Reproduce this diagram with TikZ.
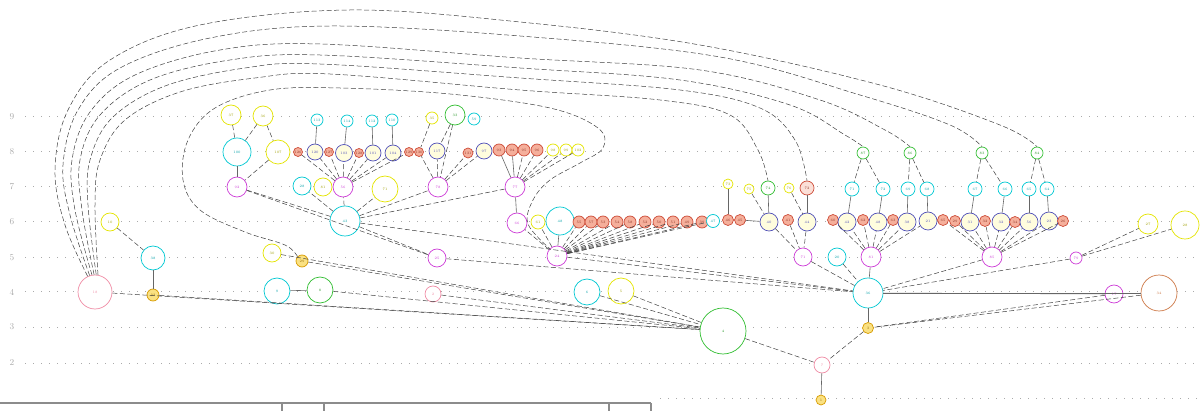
\documentclass[tikz,border=0pt]{standalone}
\usepackage{color}
\usepackage{tikz}

\definecolor{pinkc}{RGB}{240,140,165}
\definecolor{yelc}{RGB}{228,228,0}
\definecolor{cyanc}{RGB}{0,200,210}
\definecolor{grnc}{RGB}{50,190,50}
\definecolor{purc}{RGB}{205,60,215}
\definecolor{redc}{RGB}{205,75,55}
\definecolor{redf}{RGB}{245,175,155}
\definecolor{bluc}{RGB}{80,80,185}
\definecolor{bluf}{RGB}{255,253,222}
\definecolor{gldc}{RGB}{215,155,0}
\definecolor{gldf}{RGB}{250,225,130}
\definecolor{brnc}{RGB}{205,120,70}
\definecolor{gridc}{RGB}{170,170,170}

\begin{document}
\begin{tikzpicture}[x=1pt, y=-1pt,
   vx/.style={circle, draw, fill=white, inner sep=0pt, line width=0.7pt, font=\fontsize{3.5}{3.5}\selectfont},
   pk/.style={vx, draw=pinkc, text=pinkc},
   yl/.style={vx, draw=yelc, text=yelc!70!black},
   cy/.style={vx, draw=cyanc, text=cyanc!80!black},
   gr/.style={vx, draw=grnc, text=grnc!80!black},
   pu/.style={vx, draw=purc, text=purc},
   rd/.style={vx, draw=redc, fill=redf, text=redc!70!black},
   bl/.style={vx, draw=bluc, fill=bluf, text=bluc},
   gd/.style={vx, draw=gldc, fill=gldf, text=gldc!70!black},
   br/.style={vx, draw=brnc, text=brnc},
   dl/.style={draw=black!75, line width=0.5pt, dash pattern=on 5pt off 2.5pt},
   sl/.style={draw=black!60, line width=0.6pt}]

   \useasboundingbox (0,0) rectangle (1201,411);

   % level lines
   \foreach \lv/\yy in {9/117, 8/152, 7/187, 6/222, 5/258, 4/292, 3/327, 2/363} {
      \node[text=gridc, font=\fontsize{9}{9}\selectfont] (lv\lv) at (12,\yy) {\lv};
      \draw[gridc, line width=1pt, dash pattern=on 1pt off 7pt] (25,\yy) -- (1201,\yy);
   }
   \draw[gridc, line width=1pt, dash pattern=on 1pt off 7pt] (660,398) -- (1201,398);

   % table edge at the bottom
   \draw[black!45, line width=1.4pt] (0,403) -- (651,403);
   \foreach \xx in {282,324,609,651}
      \draw[black!45, line width=1.4pt] (\xx,403) -- (\xx,411);

   % left group
   \node[pk, minimum size=34] (n18) at (95,292) {18};
   \node[yl, minimum size=18] (n10) at (110,222) {10};
   \node[cy, minimum size=24] (n38) at (153,258) {38};
   \node[gd, minimum size=12] (n33) at (153,295) {33};

   % first cluster
   \node[yl, minimum size=20] (n37) at (231,115) {37};
   \node[yl, minimum size=20] (n36y) at (263,116) {36};
   \node[cy, minimum size=28] (n100) at (237,152) {100};
   \node[yl, minimum size=24] (n107) at (278,152) {107};
   \node[pu, minimum size=20] (n92) at (237,187) {92};
   \node[cy, minimum size=18] (n28) at (302,186) {28};
   \node[yl, minimum size=18] (n81y) at (323,187) {81};
   \node[pu, minimum size=20] (n56) at (343,187) {56};
   \node[yl, minimum size=26] (n71y) at (385,189) {71};
   \node[pu, minimum size=20] (n78) at (438,187) {78};
   \node[cy, minimum size=30] (n43) at (345,221) {43};

   \node[cy, minimum size=12] (c113) at (317,120) {113};
   \node[cy, minimum size=12] (c114) at (347,121) {114};
   \node[cy, minimum size=12] (c112) at (372,121) {112};
   \node[cy, minimum size=12] (c110) at (392,120) {110};
   \node[yl, minimum size=12] (y35) at (432,118) {35};
   \node[gr, minimum size=20] (g33) at (455,115) {33};
   \node[cy, minimum size=12] (c59) at (474,119) {59};

   \node[rd, minimum size=9] (r126) at (298,152) {126};
   \node[bl, minimum size=16] (b120) at (315,152) {120};
   \node[rd, minimum size=9] (r127) at (329,152) {127};
   \node[bl, minimum size=17] (b103) at (344,153) {103};
   \node[rd, minimum size=9] (r128) at (359,153) {128};
   \node[bl, minimum size=16] (b101) at (373,153) {101};
   \node[bl, minimum size=16] (b104) at (393,153) {104};
   \node[rd, minimum size=9] (r129) at (409,152) {129};
   \node[rd, minimum size=9] (r130) at (419,152) {130};
   \node[bl, minimum size=16] (b117) at (437,151) {117};
   \node[rd, minimum size=10] (r131) at (468,153) {131};
   \node[bl, minimum size=16] (b97) at (484,151) {97};
   \node[rd, minimum size=12] (r93) at (499,150) {93};
   \node[rd, minimum size=12] (r94) at (512,150) {94};
   \node[rd, minimum size=12] (r95) at (524,150) {95};
   \node[rd, minimum size=12] (r96) at (537,150) {96};
   \node[yl, minimum size=12] (y98) at (553,150) {98};
   \node[yl, minimum size=12] (y99) at (566,150) {99};
   \node[yl, minimum size=12] (y102) at (578,150) {102};
   \node[pu, minimum size=20] (n77) at (515,187) {77};

   % second cluster
   \node[pu, minimum size=20] (n66) at (517,223) {66};
   \node[yl, minimum size=14] (y61) at (538,222) {61};
   \node[cy, minimum size=28] (n48) at (560,221) {48};
   \foreach \nn/\xx in {55/579, 57/591, 53/603, 54/617, 58/630, 52/645, 50/659, 51/673, 49/687, 39/702}
      \node[rd, minimum size=12] (r\nn) at (\xx,222) {\nn};
   \node[cy, minimum size=13] (c47) at (713,221) {47};
   \node[rd, minimum size=11] (r46) at (728,220) {46};
   \node[rd, minimum size=11] (r45) at (740,220) {45};
   \node[pu, minimum size=20] (n24) at (557,256) {24};
   \node[pu, minimum size=18] (n25) at (437,258) {25};

   % middle right
   \node[yl, minimum size=10] (y73) at (728,184) {73};
   \node[yl, minimum size=10] (y75) at (749,189) {75};
   \node[gr, minimum size=14] (g74) at (768,188) {74};
   \node[yl, minimum size=10] (y76) at (789,188) {76};
   \node[rd, minimum size=14, fill=redf!40] (o72) at (807,188) {72};
   \node[bl, minimum size=18] (b40) at (769,222) {40};
   \node[rd, minimum size=11] (r41) at (788,220) {41};
   \node[bl, minimum size=18] (b44) at (807,222) {44};
   \node[pu, minimum size=18] (p71) at (803,257) {71};
   \node[cy, minimum size=18] (c20) at (837,257) {20};
   \node[pu, minimum size=20] (p81) at (871,257) {81};
   \node[cy, minimum size=30] (c36) at (868,293) {36};
   \node[gd, minimum size=11] (g3) at (868,328) {3};
   \node[pk, minimum size=16] (p7) at (822,365) {7};
   \node[gd, minimum size=10] (gd1) at (821,400) {1};
   \node[gr, minimum size=46] (g4) at (723,331) {4};

   % right cluster
   \node[rd, minimum size=11] (r60) at (833,220) {60};
   \node[bl, minimum size=18] (b42) at (847,222) {42};
   \node[rd, minimum size=11] (r62) at (863,220) {62};
   \node[bl, minimum size=18] (b48r) at (878,222) {48};
   \node[rd, minimum size=11] (r63) at (893,220) {63};
   \node[bl, minimum size=18] (b38r) at (907,222) {38};
   \node[bl, minimum size=18] (b21) at (928,221) {21};
   \node[rd, minimum size=11] (r65) at (943,220) {65};
   \node[rd, minimum size=11] (r29) at (955,221) {29};
   \node[bl, minimum size=18] (b31) at (970,222) {31};
   \node[rd, minimum size=11] (r32) at (985,221) {32};
   \node[bl, minimum size=18] (b32) at (1001,222) {32};
   \node[rd, minimum size=11] (r34) at (1015,222) {34};
   \node[bl, minimum size=18] (b56r) at (1029,222) {56};
   \node[bl, minimum size=18] (b23) at (1049,221) {23};
   \node[rd, minimum size=11] (r26) at (1063,221) {26};

   \node[cy, minimum size=14] (c71) at (852,189) {71};
   \node[cy, minimum size=14] (c72) at (883,189) {72};
   \node[cy, minimum size=14] (c69) at (908,189) {69};
   \node[cy, minimum size=14] (c68) at (927,189) {68};
   \node[cy, minimum size=14] (c67) at (975,189) {67};
   \node[cy, minimum size=14] (c66) at (1005,189) {66};
   \node[cy, minimum size=14] (c65) at (1029,189) {65};
   \node[cy, minimum size=14] (c64) at (1047,189) {64};

   \node[gr, minimum size=12] (g87) at (863,153) {87};
   \node[gr, minimum size=12] (g86) at (910,153) {86};
   \node[gr, minimum size=12] (g83) at (982,153) {83};
   \node[gr, minimum size=12] (g84) at (1037,153) {84};

   \node[pu, minimum size=20] (p85) at (992,257) {85};
   \node[pu, minimum size=12] (p79) at (1076,258) {79};
   \node[yl, minimum size=20] (y27) at (1148,224) {27};
   \node[yl, minimum size=28] (y28) at (1185,225) {28};
   \node[pu, minimum size=18] (p17) at (1114,294) {17};
   \node[br, minimum size=36] (o34) at (1159,293) {34};

   % lower middle
   \node[yl, minimum size=18] (y30) at (272,253) {30};
   \node[gd, minimum size=12] (gd29) at (302,261) {29};
   \node[cy, minimum size=26] (c9) at (277,291) {9};
   \node[gr, minimum size=26] (g8) at (320,290) {8};
   \node[pk, minimum size=16] (p2) at (433,294) {2};
   \node[cy, minimum size=26] (c6) at (587,292) {6};
   \node[yl, minimum size=26] (y5) at (621,291) {5};

   % solid links
   \draw[sl] (n38) -- (n33);
   \draw[sl] (n100) -- (n92);
   \draw[sl] (c113) -- (b120);
   \draw[sl] (c114) -- (b103);
   \draw[sl] (c112) -- (b101);
   \draw[sl] (c110) -- (b104);
   \draw[sl] (n77) -- (r93);
   \draw[sl] (n77) -- (r94);
   \draw[sl] (n77) -- (n66);
   \draw[sl] (n24) -- (n48);
   \draw[sl] (c9) -- (g8);
   \draw[sl] (y73) -- (r46);
   \draw[sl] (r45) -- (b40);
   \draw[sl] (g74) -- (b40);
   \draw[sl] (o72) -- (b44);
   \draw[sl] (c71) -- (b42);
   \draw[sl] (c72) -- (b48r);
   \draw[sl] (c69) -- (b38r);
   \draw[sl] (c68) -- (b21);
   \draw[sl] (c67) -- (b31);
   \draw[sl] (c66) -- (b32);
   \draw[sl] (c65) -- (b56r);
   \draw[sl] (c64) -- (b23);
   \draw[sl] (p81) -- (c36);
   \draw[sl] (c36) -- (g3);
   \draw[sl] (p7) -- (gd1);
   \draw[sl] (p17) -- (c36);
   \draw[sl] (o34) -- (c36);

   % dashed links
   \draw[dl] (n10) -- (n38);
   \draw[dl] (n37) -- (n100);
   \draw[dl] (n36y) -- (n100);
   \draw[dl] (n36y) -- (n107);
   \draw[dl] (n107) -- (n92);
   \foreach \t in {r126,b120,r127,b103,r128,b101,b104,r129}
      \draw[dl] (n56) -- (\t);
   \foreach \t in {b117,r131,b97,r130}
      \draw[dl] (n78) -- (\t);
   \draw[dl] (y35) -- (r130);
   \draw[dl] (g33) -- (b117);
   \draw[dl] (g33) -- (n78);
   \foreach \t in {r95,r96,y98,y99,y102}
      \draw[dl] (n77) -- (\t);
   \foreach \t in {n92,n28,n56,n71y,n78,n77,n25,c36}
      \draw[dl] (n43) -- (\t);
   \draw[dl] (n92) -- (n25);
   \foreach \t in {n66,y61,r55,r57,r53,r54,r58,r52,r50,r51,r49,r39,c47}
      \draw[dl] (n24) -- (\t);
   \draw[dl] (n24) -- (c36);
   \draw[dl] (n25) -- (c36);
   \foreach \t in {n18,n33,y30,gd29,g8,p2,c6,y5}
      \draw[dl] (\t) -- (g4);
   \draw[dl] (g4) -- (p7);
   \draw[dl] (g3) -- (p7);
   \draw[dl] (y75) -- (b40);
   \draw[dl] (y76) -- (b44);
   \foreach \t in {b40,r41,b44}
      \draw[dl] (\t) -- (p71);
   \draw[dl] (p71) -- (c36);
   \draw[dl] (c20) -- (c36);
   \draw[dl] (g87) -- (c71);
   \draw[dl] (g87) -- (c72);
   \draw[dl] (g86) -- (c69);
   \draw[dl] (g86) -- (c68);
   \draw[dl] (g83) -- (c67);
   \draw[dl] (g83) -- (c66);
   \draw[dl] (g84) -- (c65);
   \draw[dl] (g84) -- (c64);
   \foreach \t in {r60,b42,r62,b48r,r63,b38r,b21}
      \draw[dl] (p81) -- (\t);
   \foreach \t in {r65,r29,b31,r32,b32,r34,b56r,b23,r26}
      \draw[dl] (p85) -- (\t);
   \draw[dl] (p85) -- (c36);
   \draw[dl] (p79) -- (c36);
   \draw[dl] (p79) -- (y27);
   \draw[dl] (p79) -- (y28);
   \draw[dl] (p17) -- (g3);
   \draw[dl] (o34) -- (g3);

   % long arcs over the top
   \draw[dl] plot[smooth, tension=0.6] coordinates {(n18.115) (65,225) (55,170) (68,110) (110,60) (200,25) (350,10) (520,22) (700,45) (880,85) (1000,125) (g84.north)};
   \draw[dl] plot[smooth, tension=0.6] coordinates {(n18.108) (70,215) (63,165) (78,110) (120,68) (210,38) (330,26) (520,36) (720,57) (860,95) (950,125) (g83.north)};
   \draw[dl] plot[smooth, tension=0.6] coordinates {(n18.100) (75,210) (72,160) (90,112) (135,75) (220,50) (320,44) (520,58) (700,70) (820,100) (885,130) (g86.north)};
   \draw[dl] plot[smooth, tension=0.6] coordinates {(n18.93) (82,210) (80,160) (100,115) (150,80) (230,60) (320,55) (520,68) (680,80) (790,105) (845,135) (g87.north)};
   \draw[dl] plot[smooth, tension=0.6] coordinates {(n18.86) (88,205) (90,160) (112,118) (165,86) (245,68) (320,64) (520,78) (680,90) (760,108) (795,140) (o72.north)};
   \draw[dl] plot[smooth, tension=0.6] coordinates {(n18.80) (95,205) (100,160) (125,120) (180,92) (255,78) (330,74) (520,90) (660,100) (730,115) (758,150) (g74.north)};
   \draw[dl] plot[smooth, tension=0.6] coordinates {(gd29.north west) (285,245) (245,232) (200,210) (183,180) (188,140) (215,108) (270,90) (340,88) (450,94) (550,108) (598,128) (603,148) (580,163) (550,180) (533,200) (528,224) (n24.135)};
\end{tikzpicture}
\end{document}
